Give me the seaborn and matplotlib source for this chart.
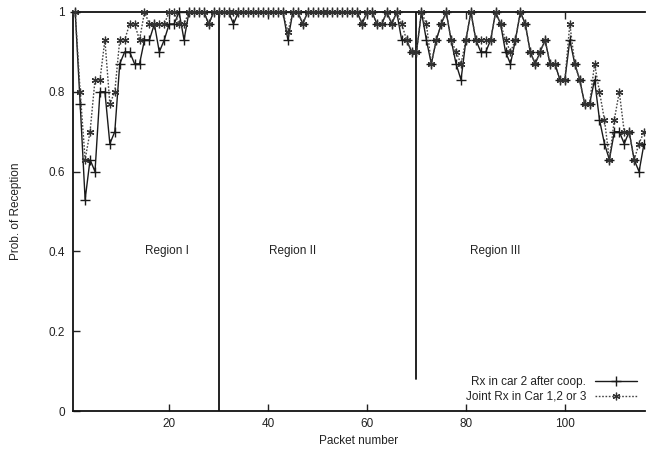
import matplotlib
matplotlib.use("Agg")
import matplotlib.pyplot as plt
import seaborn as sns
import pandas as pd
import numpy as np

packets = list(range(1, 117))

rx_car2 = [
    1.00, 0.77, 0.53, 0.63, 0.60, 0.80, 0.80, 0.67, 0.70, 0.87,   # 1-10
    0.90, 0.90, 0.87, 0.87, 0.93, 0.93, 0.97, 0.90, 0.93, 0.97,   # 11-20
    0.97, 1.00, 0.93, 1.00, 1.00, 1.00, 1.00, 0.97, 1.00, 1.00,   # 21-30
    1.00, 1.00, 0.97, 1.00, 1.00, 1.00, 1.00, 1.00, 1.00, 1.00,   # 31-40
    1.00, 1.00, 1.00, 0.93, 1.00, 1.00, 0.97, 1.00, 1.00, 1.00,   # 41-50
    1.00, 1.00, 1.00, 1.00, 1.00, 1.00, 1.00, 1.00, 0.97, 1.00,   # 51-60
    1.00, 0.97, 0.97, 1.00, 0.97, 1.00, 0.93, 0.93, 0.90, 0.90,   # 61-70
    1.00, 0.93, 0.87, 0.93, 0.97, 1.00, 0.93, 0.87, 0.83, 0.93,   # 71-80
    1.00, 0.93, 0.90, 0.90, 0.93, 1.00, 0.97, 0.90, 0.87, 0.93,   # 81-90
    1.00, 0.97, 0.90, 0.87, 0.90, 0.93, 0.87, 0.87, 0.83, 0.83,   # 91-100
    0.93, 0.87, 0.83, 0.77, 0.77, 0.83, 0.73, 0.67, 0.63, 0.70,   # 101-110
    0.70, 0.67, 0.70, 0.63, 0.60, 0.67,                           # 111-116
]

joint_rx = [
    1.00, 0.80, 0.63, 0.70, 0.83, 0.83, 0.93, 0.77, 0.80, 0.93,   # 1-10
    0.93, 0.97, 0.97, 0.93, 1.00, 0.97, 0.97, 0.97, 0.97, 1.00,   # 11-20
    1.00, 0.97, 0.97, 1.00, 1.00, 1.00, 1.00, 0.97, 1.00, 1.00,   # 21-30
    1.00, 1.00, 1.00, 1.00, 1.00, 1.00, 1.00, 1.00, 1.00, 1.00,   # 31-40
    1.00, 1.00, 1.00, 0.95, 1.00, 1.00, 0.97, 1.00, 1.00, 1.00,   # 41-50
    1.00, 1.00, 1.00, 1.00, 1.00, 1.00, 1.00, 1.00, 0.97, 1.00,   # 51-60
    1.00, 0.97, 0.97, 1.00, 0.97, 1.00, 0.97, 0.93, 0.90, 0.90,   # 61-70
    1.00, 0.97, 0.87, 0.93, 0.97, 1.00, 0.93, 0.90, 0.87, 0.93,   # 71-80
    1.00, 0.93, 0.93, 0.93, 0.93, 1.00, 0.97, 0.93, 0.90, 0.93,   # 81-90
    1.00, 0.97, 0.90, 0.87, 0.90, 0.93, 0.87, 0.87, 0.83, 0.83,   # 91-100
    0.97, 0.87, 0.83, 0.77, 0.77, 0.87, 0.80, 0.73, 0.63, 0.73,   # 101-110
    0.80, 0.70, 0.70, 0.63, 0.67, 0.70,                           # 111-116
]

series_labels = ["Rx in car 2 after coop.", "Joint Rx in Car 1,2 or 3"]
region_names = ["Region I", "Region II", "Region III"]
region_label_x = [19.5, 45, 86]
region_label_y = 0.4
boundaries = [30, 70]
x_ticks = [20, 40, 60, 80, 100]
y_ticks = [0, 0.2, 0.4, 0.6, 0.8, 1]
y_tick_labels = ["0", "0.2", "0.4", "0.6", "0.8", "1"]

sns.set_style("ticks")
plt.rcParams['font.family'] = ['Liberation Sans', 'DejaVu Sans']

df = pd.DataFrame({"packet": packets, "a": rx_car2, "b": joint_rx})

fig = plt.figure(figsize=(6.46, 4.57), dpi=100)
ax = fig.add_axes([73 / 646, 1 - 411 / 457, (645 - 73) / 646, (411 - 12) / 457])

sns.lineplot(data=df, x="packet", y="a", ax=ax, color="#1a1a1a", linewidth=1.0,
             label=series_labels[0])
sns.lineplot(data=df, x="packet", y="b", ax=ax, color="#444444", linewidth=1.0,
             linestyle=(0, (1.2, 1.2)), label=series_labels[1])

line_a, line_b = ax.lines[0], ax.lines[1]
line_a.set_marker("+")
line_a.set_markersize(6.5)
line_a.set_markeredgewidth(1.0)
line_a.set_markeredgecolor("#1a1a1a")
line_b.set_marker((6, 2, 0))
line_b.set_markersize(5.5)
line_b.set_markeredgewidth(0.9)
line_b.set_markeredgecolor("#333333")
for ln in (line_a, line_b):
    ln.set_clip_on(False)
    ln.set_zorder(3)

# region boundaries
ax.plot([boundaries[0], boundaries[0]], [0, 1], color="#111111", lw=1.3)
ax.plot([boundaries[1], boundaries[1]], [0.08, 1], color="#111111", lw=1.3)

for name, xx in zip(region_names, region_label_x):
    ax.text(xx, region_label_y, name, ha="center", va="center", fontsize=8.5, color="#222222")

ax.set_xlim(0.55, 116.2)
ax.set_ylim(0, 1)
ax.set_xticks(x_ticks)
ax.set_yticks(y_ticks)
ax.set_yticklabels(y_tick_labels)
ax.tick_params(direction="in", length=5, width=1, top=True, labelsize=8.5,
               colors="#222222", pad=6)
ax.tick_params(axis="x", pad=5)
for s in ["left", "bottom", "top"]:
    ax.spines[s].set_linewidth(1.3)
    ax.spines[s].set_color("#111111")
ax.spines["right"].set_visible(False)

ax.set_xlabel("Packet number", fontsize=8.5, color="#222222", labelpad=4)
ax.set_ylabel("Prob. of Reception", fontsize=8.5, color="#222222", labelpad=19)

leg = ax.legend(loc="lower right", frameon=False, markerfirst=False, fontsize=8.5,
                handlelength=3.5, handletextpad=0.8, labelspacing=0.2,
                borderaxespad=0.3, bbox_to_anchor=(1.0, 0.0))
for t in leg.get_texts():
    t.set_color("#222222")

fig.savefig("out.png", dpi=100)
